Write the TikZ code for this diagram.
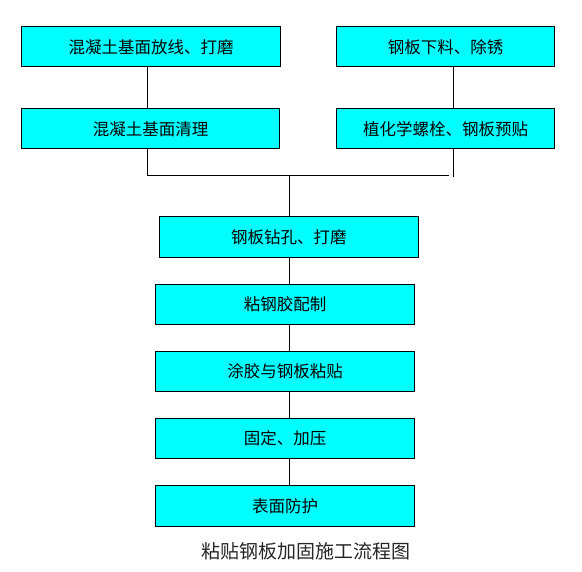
\documentclass[tikz,border=0pt]{standalone}
\usepackage{fontspec}
\setmainfont{Noto Sans CJK SC}
\newfontfamily\cjkcap{Noto Sans CJK SC}
\definecolor{boxcyan}{RGB}{0,255,255}
\usetikzlibrary{positioning,calc}

\tikzset{
  stepbox/.style={draw=black, fill=boxcyan, line width=1pt, inner sep=0pt, minimum height=40pt, font=\fontsize{16.5}{18}\selectfont, align=center},
  link/.style={draw=black, line width=1pt}
}

\begin{document}
\begin{tikzpicture}[x=1pt, y=-1pt]
  \useasboundingbox (0,0) rectangle (582,572);

  % top two columns
  \node[stepbox, minimum width=259.5pt] (clean1) at (151.2,47) {混凝土基面放线、打磨};
  \node[stepbox, minimum width=258pt] (clean2) at (150.5,129) {混凝土基面清理};
  \node[stepbox, minimum width=217.5pt] (plate1) at (445.7,47) {钢板下料、除锈};
  \node[stepbox, minimum width=217.5pt] (plate2) at (445.7,129) {植化学螺栓、钢板预贴};

  % main column
  \node[stepbox, minimum width=259pt, minimum height=41pt] (drill) at (288.8,236.8) {钢板钻孔、打磨};
  \node[stepbox, minimum width=259pt] (glue) at (285,304.3) {粘钢胶配制};
  \node[stepbox, minimum width=259pt] (paste) at (285,371.3) {涂胶与钢板粘贴};
  \node[stepbox, minimum width=259pt] (press) at (285,438.3) {固定、加压};
  \node[stepbox, minimum width=259pt, minimum height=41pt] (protect) at (285,505.8) {表面防护};

  % caption
  \node[font=\cjkcap\fontsize{19}{21}\selectfont, text=black!85] (title) at (306,551) {粘贴钢板加固施工流程图};

  % junction points
  \coordinate (jl) at (147.3,176);
  \coordinate (jend) at (449,176);
  \coordinate (jr) at (453.3,177.5);
  \coordinate (jc) at (289.3,176);

  % connectors
  \draw[link] (clean1.south -| jl) -- (clean2.north -| jl);
  \draw[link] (plate1.south -| jr) -- (plate2.north -| jr);
  \draw[link] (clean2.south -| jl) -- (jl) -- (jend);
  \draw[link] (plate2.south -| jr) -- (jr);
  \draw[link] (jc) -- (drill.north -| jc);
  \draw[link] (drill.south -| jc) -- (glue.north -| jc);
  \draw[link] (glue.south -| jc) -- (paste.north -| jc);
  \draw[link] (paste.south -| jc) -- (press.north -| jc);
  \draw[link] (press.south -| jc) -- (protect.north -| jc);
\end{tikzpicture}
\end{document}
